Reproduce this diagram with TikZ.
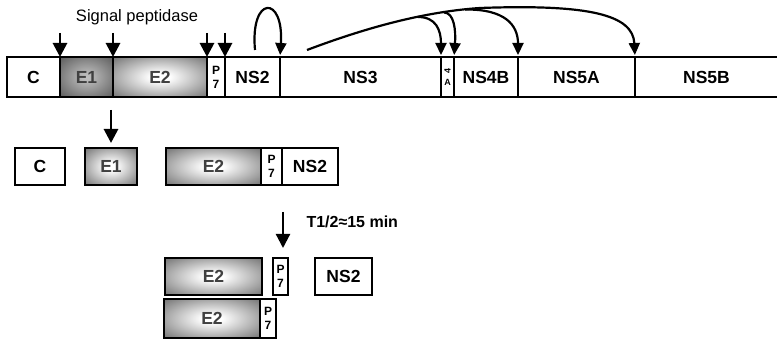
\documentclass[tikz,border=0pt]{standalone}
\usepackage{fontspec}
\setmainfont{Liberation Sans}
\usetikzlibrary{arrows.meta,positioning}
\pgfdeclareradialshading{envlight}{\pgfpoint{0bp}{0bp}}{color(0bp)=(white); color(5bp)=(white); color(34bp)=(black!52); color(50bp)=(black!62)}
\pgfdeclareradialshading{envdark}{\pgfpoint{0bp}{0bp}}{color(0bp)=(black!25); color(5bp)=(black!28); color(34bp)=(black!62); color(50bp)=(black!72)}
\begin{document}
\begin{tikzpicture}[x=1pt,y=-1pt,
    seg/.style={draw, line width=1.3pt, inner sep=0pt, outer sep=0pt, minimum height=40pt, font=\bfseries\fontsize{17.5}{20}\selectfont},
    wd/.style={minimum width=#1pt},
    lo/.style={anchor=north west, minimum height=37pt},
    env/.style={seg, shading=envlight, text=black!75},
    envd/.style={seg, shading=envdark, text=black!75},
    pep/.style={seg, align=center, font=\bfseries\fontsize{12}{14}\selectfont},
    cut/.style={-{Triangle[length=14pt,width=14pt]}, line width=2.8pt},
    pro/.style={-{Triangle[length=12pt,width=11pt]}, line width=2.2pt, shorten >=2pt}]
    \useasboundingbox (0,0) rectangle (777,352);
    % polyprotein
    \node[seg, wd=53, anchor=west] (c) at (7,77) {C};
    \node[envd, wd=53, right=0pt of c] (e1) {E1};
    \node[env, wd=94, right=0pt of e1] (e2) {E2};
    \node[pep, wd=18, right=0pt of e2] (p7) {P\\7};
    \node[seg, wd=55, right=0pt of p7] (ns2) {NS2};
    \node[seg, wd=161, right=0pt of ns2] (ns3) {NS3};
    \node[seg, wd=13, right=0pt of ns3, align=center, font=\bfseries\fontsize{9}{12}\selectfont] (ns4a) {\rotatebox{90}{4}\\A};
    \node[seg, wd=64, right=0pt of ns4a] (ns4b) {NS4B};
    \node[seg, wd=117, right=0pt of ns4b] (ns5a) {NS5A};
    \node[seg, wd=143, right=0pt of ns5a] (ns5b) {NS5B};
    \node (sp) at (137,17) {\fontsize{16.5}{18}\selectfont Signal peptidase};
    \coordinate (a1) at (60,33);
    \coordinate (a2) at (113,33);
    \coordinate (a3) at (207,33);
    \coordinate (a4) at (225,33);
    \draw[cut] (a1) -- (c.north east);
    \draw[cut] (a2) -- (e1.north east);
    \draw[cut] (a3) -- (e2.north east);
    \draw[cut] (a4) -- (p7.north east);
    \coordinate (n2s) at (255,50);
    \draw[pro] (n2s) .. controls (250,-5) and (284,-5) .. (ns2.north east);
    \coordinate (n3s) at (307,50);
    \coordinate (b1) at (418,17);
    \coordinate (b2) at (444,12.5);
    \coordinate (b3) at (465,9.5);
    \draw[pro] (n3s) .. controls (360,30) and (420,12) .. (480,8) .. controls (590,4) and (633,15) .. (ns5a.north east);
    \draw[pro] (b1) .. controls (436,17) and (441,30) .. (ns3.north east);
    \draw[pro] (b2) .. controls (454,12.5) and (456,30) .. (ns4b.north west);
    \draw[pro] (b3) .. controls (505,9) and (518,25) .. (ns5a.north west);
    % first cleavage products
    \node[seg, lo, wd=50] (c2) at (15,148) {C};
    \node[env, lo, wd=52] (e1b) at (85,148) {E1};
    \node[env, lo, wd=95] (e2b) at (166,148) {E2};
    \node[pep, lo, wd=21] (p7b) at (261,148) {P\\7};
    \node[seg, lo, wd=56] (ns2b) at (282,148) {NS2};
    \coordinate (k2) at (111,110);
    \draw[cut, shorten >=5pt] (k2) -- (e1b.north);
    % slow cleavage
    \node[env, lo, wd=97] (e2c) at (165,258) {E2};
    \node[pep, lo, wd=15] (p7c) at (273,258) {P\\7};
    \node[seg, lo, wd=57] (ns2c) at (315,258) {NS2};
    \coordinate (k3) at (283,212);
    \coordinate (k3e) at (283,248);
    \draw[cut, line width=2.2pt] (k3) -- (k3e);
    \node[anchor=west, font=\bfseries\fontsize{16}{18}\selectfont] (th) at (303,222) {T1/2≈15 min};
    \node[env, lo, wd=96, minimum height=39pt] (e2d) at (164,299) {E2};
    \node[pep, lo, wd=16, minimum height=39pt] (p7d) at (260,299) {P\\7};
\end{tikzpicture}
\end{document}
